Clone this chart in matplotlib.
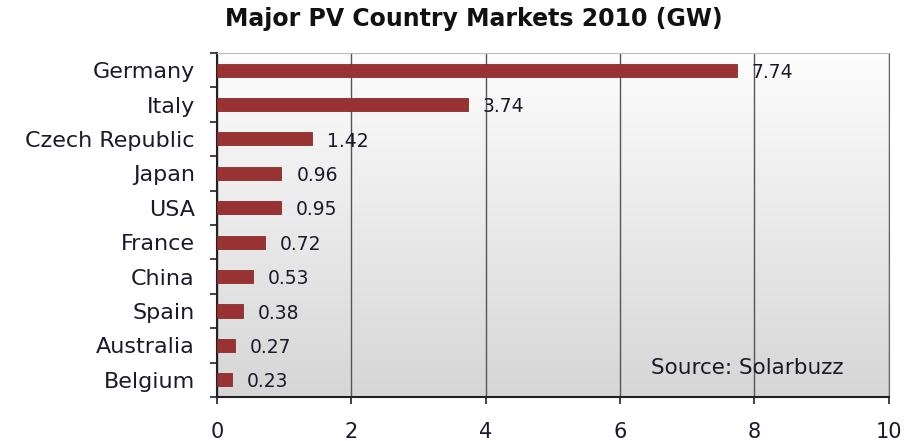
import matplotlib
matplotlib.use("Agg")
import matplotlib.pyplot as plt
import numpy as np
from matplotlib.colors import LinearSegmentedColormap

countries = ["Germany", "Italy", "Czech Republic", "Japan", "USA", "France",
             "China", "Spain", "Australia", "Belgium"]
values = [7.74, 3.74, 1.42, 0.96, 0.95, 0.72, 0.53, 0.38, 0.27, 0.23]
xticks = [0, 2, 4, 6, 8, 10]

fig = plt.figure(figsize=(9.06, 4.41), dpi=100)
ax = fig.add_axes([0.2395, 0.0998, 0.7415, 0.7802])

# gradient background: white at top, light gray at bottom
cmap = LinearSegmentedColormap.from_list("bg", ["#fdfdfd", "#d6d6d6"])
grad = np.linspace(0, 1, 256).reshape(-1, 1)
ax.imshow(grad, cmap=cmap, aspect="auto", extent=[0, 1, 0, 1], origin="upper",
          transform=ax.transAxes, zorder=0)

y = np.arange(len(countries))
ax.barh(y, values, height=0.38, color="#993333", edgecolor="#8a2a2a",
        linewidth=0.6, zorder=3)
for yi, v in zip(y, values):
    ax.text(v + 0.22, yi + 0.06, f"{v:.2f}", va="center", ha="left",
            fontsize=13.5, color="#1a1a2a", zorder=4)

ax.set_ylim(len(countries) - 0.5, -0.5)
ax.set_xlim(0, 10)
ax.set_xticks(xticks)
ax.set_xticklabels([str(t) for t in xticks], fontsize=15, color="#1a1a2a")
ax.set_yticks(y)
ax.set_yticklabels(countries, fontsize=16, color="#1a1a2a")
ax.set_yticks(np.arange(-0.5, len(countries), 1), minor=True)
ax.tick_params(axis="y", which="major", length=0, pad=16)
ax.tick_params(axis="y", which="minor", length=5, width=1.2, color="#222222")
ax.tick_params(axis="x", length=5, width=1.2, color="#222222", pad=13)

ax.grid(axis="x", color="#555555", linewidth=1.0, zorder=1)
ax.set_axisbelow(True)
for s in ["left", "bottom"]:
    ax.spines[s].set_color("#222222")
    ax.spines[s].set_linewidth(1.5)
ax.spines["top"].set_color("#bbbbbb")
ax.spines["right"].set_color("#666666")

ax.text(0.932, 0.084, "Source: Solarbuzz", transform=ax.transAxes,
        ha="right", va="center", fontsize=15.5, color="#1a1a2a", zorder=4)

fig.text(0.523, 0.957, "Major PV Country Markets 2010 (GW)", ha="center",
         va="center", fontsize=17, fontweight="bold", color="#111111")

fig.savefig("out.png", dpi=100)
